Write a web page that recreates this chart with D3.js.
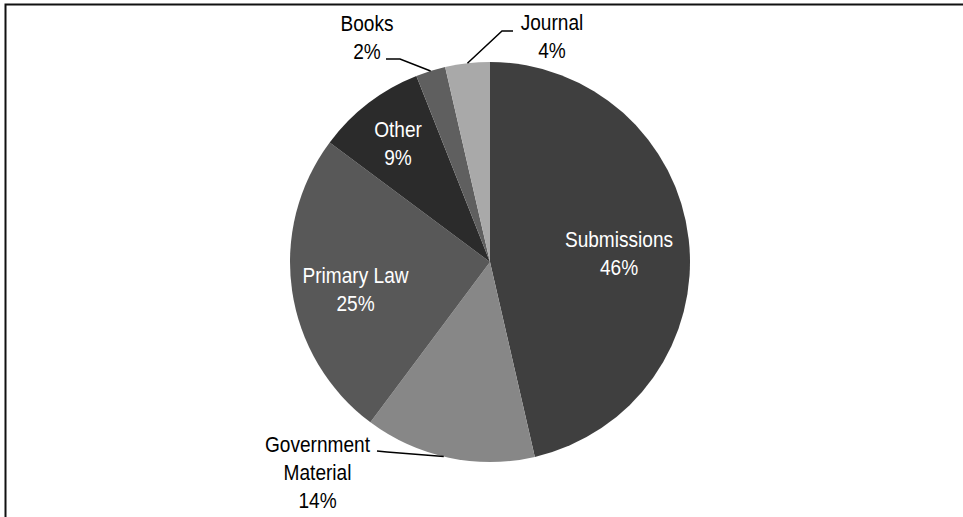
<!DOCTYPE html>
<html><head><meta charset="utf-8">
<script src="https://cdn.jsdelivr.net/npm/d3@7"></script>
<style>html,body{margin:0;padding:0;background:#fff;}svg{display:block;}</style>
</head><body>
<svg id="chart" width="963" height="517"></svg>
<script>
const categories = ["Submissions", "Government Material", "Primary Law", "Other", "Books", "Journal"];
const values = [46.4, 13.8, 25.0, 8.8, 2.4, 3.6];
const labelLines = [["Submissions"], ["Government", "Material"], ["Primary Law"], ["Other"], ["Books"], ["Journal"]];
const colors = ["#3f3f3f", "#878787", "#585858", "#2b2b2b", "#5f5f5f", "#a9a9a9"];
const labelColors = ["#fff", "#000", "#fff", "#fff", "#000", "#000"];

const svg = d3.select("#chart");
const W = 963, H = 517;
const cx = 490, cy = 262, R = 200;

// frame
svg.append("path").attr("d", `M5.5,${H} V4.5 H${W}`).attr("fill", "none")
  .attr("stroke", "#111").attr("stroke-width", 2);

const data = categories.map((c, i) => ({cat: c, value: values[i], i}));
const pie = d3.pie().value(d => d.value).sort(null);
const arcs = pie(data);
const arc = d3.arc().innerRadius(0).outerRadius(R);
const g = svg.append("g").attr("transform", `translate(${cx},${cy})`);
g.selectAll("path.slice").data(arcs).enter().append("path")
  .attr("class", "slice").attr("d", arc).attr("fill", d => colors[d.data.i]);

const total = d3.sum(values);
const font = "'Liberation Sans', Arial, sans-serif";
const fs = 20, lh = 28, sx = 0.955, sy = 1.07;

const outside = {
  "Government Material": {x: 317.5, y: 452, pt: [[377, 451], [387, 452]], f: 0.53},
  "Books": {x: 367, y: 31, pt: [[386, 59], [400, 59]], f: 0.5},
  "Journal": {x: 552, y: 30, pt: [[513, 31], [502, 31]], f: 0.5}
};
const inside = {
  "Submissions": {x: 619, y: 247},
  "Primary Law": {x: 355.5, y: 283},
  "Other": {x: 398, y: 137}
};

arcs.forEach(a => {
  const d = a.data;
  const pct = Math.round(d.value / total * 100) + "%";
  const lines = labelLines[d.i].concat([pct]);
  const pos = inside[d.cat] || outside[d.cat];
  const t = svg.append("text").attr("font-family", font).attr("font-size", fs)
    .attr("fill", labelColors[d.i]).attr("text-anchor", "middle")
    .attr("transform", `translate(${pos.x},${pos.y}) scale(${sx},${sy})`);
  lines.forEach((ln, k) => {
    t.append("tspan").attr("x", 0).attr("y", k * lh / sy).text(ln);
  });
  if (outside[d.cat]) {
    const ang = a.startAngle + (a.endAngle - a.startAngle) * pos.f;
    const ex = cx + R * Math.sin(ang), ey = cy - R * Math.cos(ang);
    const pts = pos.pt.concat([[ex, ey]]);
    svg.append("path").attr("d", d3.line()(pts)).attr("fill", "none")
      .attr("stroke", "#000").attr("stroke-width", 1.5);
  }
});
</script>
</body></html>
